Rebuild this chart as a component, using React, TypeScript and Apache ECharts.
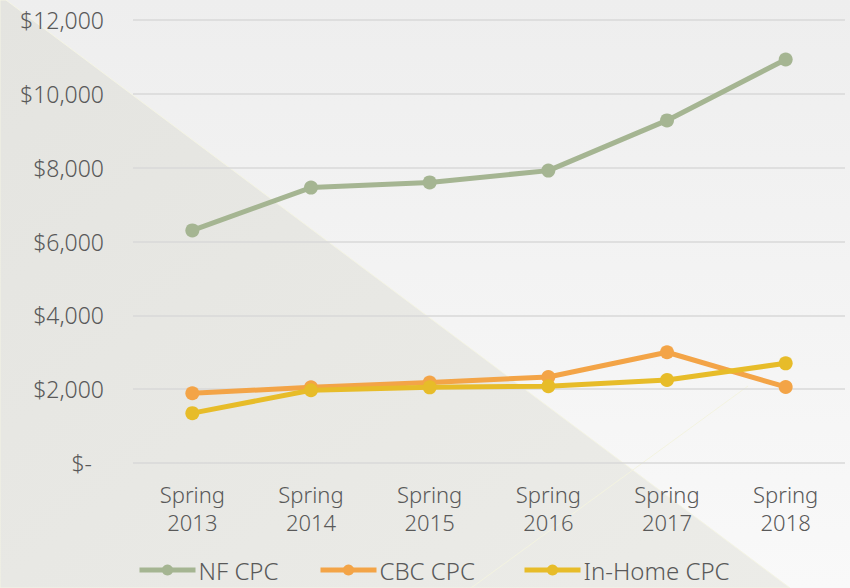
import React, { useEffect, useRef } from "react";
import * as echarts from "echarts";

const categories = ["Spring\n2013", "Spring\n2014", "Spring\n2015", "Spring\n2016", "Spring\n2017", "Spring\n2018"];
const nfCpc = [6300, 7460, 7600, 7920, 9280, 10930];
const cbcCpc = [1890, 2050, 2180, 2330, 3000, 2060];
const inHomeCpc = [1350, 1970, 2050, 2080, 2250, 2700];
const seriesNames = ["NF CPC", "CBC CPC", "In-Home CPC"];
const colors = ["#a5b592", "#f3a447", "#e7bc29"];

export default function App() {
  const ref = useRef<HTMLDivElement>(null);
  useEffect(() => {
    if (!ref.current) return;
    const chart = echarts.init(ref.current, null, { renderer: "svg" });
    const font = "'Noto Sans', 'DejaVu Sans', sans-serif";
    const mk = (name: string, data: number[], color: string) => ({
      name,
      type: "line",
      data,
      symbol: "circle",
      symbolSize: 14,
      lineStyle: { width: 5, color },
      itemStyle: { color },
      z: 3,
    });
    const legendLefts = [137, 318, 522];
    const legends = seriesNames.map((n, i) => ({
      top: 557,
      left: legendLefts[i],
      itemWidth: 56,
      itemHeight: 14,
      padding: 0,
      data: [n],
      lineStyle: { width: 5 },
      textStyle: { color: "#595959", fontSize: 24, fontWeight: 300, fontFamily: font, lineHeight: 26, padding: [0, 0, 0, -2] },
    }));
    chart.setOption({
      animation: false,
      backgroundColor: new echarts.graphic.LinearGradient(0, 0, 0, 1, [
        { offset: 0, color: "#eeeeee" },
        { offset: 1, color: "#f9f9f9" },
      ]),
      textStyle: { fontFamily: font },
      graphic: [
        {
          type: "polygon",
          z: -10,
          silent: true,
          shape: { points: [[0, 0], [6, 0], [790, 588], [0, 588]] },
          style: {
            fill: new echarts.graphic.LinearGradient(0, 0, 1, 1, [
              { offset: 0, color: "#e4e4e0" },
              { offset: 1, color: "#ecece8" },
            ]),
            stroke: "#f4f4e4",
            lineWidth: 1,
          },
        },
        {
          type: "line",
          z: -9,
          silent: true,
          shape: { x1: 471, y1: 588, x2: 748, y2: 386 },
          style: { stroke: "#f3f3e0", lineWidth: 1 },
        },
      ],
      grid: { left: 133, right: 5, top: 20, bottom: 125 },
      legend: legends,
      xAxis: {
        type: "category",
        data: categories,
        boundaryGap: true,
        axisLine: { show: false },
        axisTick: { show: false },
        axisLabel: { color: "#595959", fontSize: 22, fontWeight: 300, lineHeight: 28, margin: 17, fontFamily: font },
      },
      yAxis: {
        type: "value",
        min: 0,
        max: 12000,
        interval: 2000,
        axisLine: { show: false },
        axisTick: { show: false },
        splitLine: { lineStyle: { color: "#d9d9d9", width: 1.5 } },
        axisLabel: {
          color: "#595959",
          fontSize: 23,
          fontWeight: 300,
          margin: 29,
          fontFamily: font,
          formatter: (v: number) => (v === 0 ? "{z|$-}" : "$" + v.toLocaleString("en-US")),
          rich: {
            z: { color: "#595959", fontSize: 23, fontWeight: 300, fontFamily: font, padding: [0, 12, 0, 0] },
          },
        },
      },
      series: [
        mk(seriesNames[0], nfCpc, colors[0]),
        mk(seriesNames[1], cbcCpc, colors[1]),
        mk(seriesNames[2], inHomeCpc, colors[2]),
      ],
    });
    return () => chart.dispose();
  }, []);
  return <div ref={ref} style={{ position: "absolute", left: 0, top: 0, width: 850, height: 588 }} />;
}
